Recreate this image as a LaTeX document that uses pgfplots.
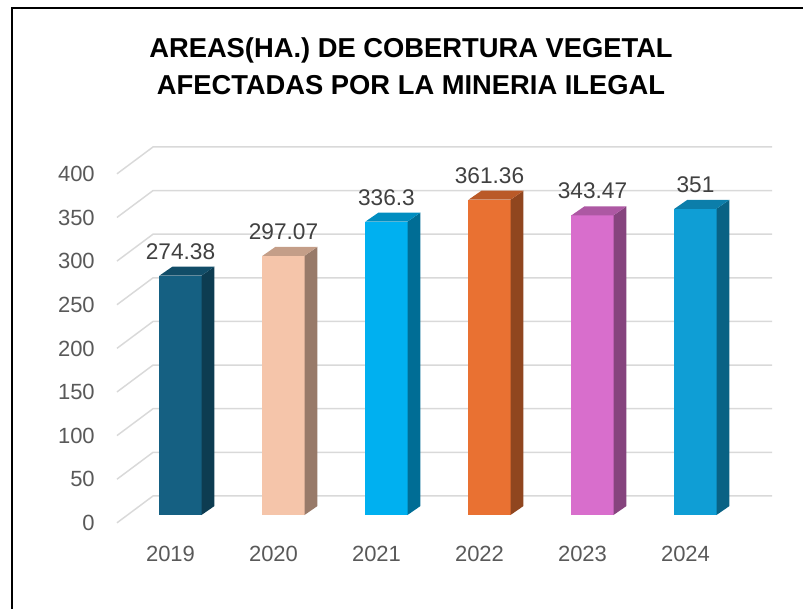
\documentclass[border=0pt]{standalone}
\usepackage{pgfplots}
\pgfplotsset{compat=1.18}
\usepackage{fontspec}
\setmainfont{Liberation Sans}
\definecolor{gridc}{RGB}{217,217,217}
\definecolor{tickc}{RGB}{89,89,89}
\definecolor{labc}{RGB}{64,64,64}
\definecolor{c19}{HTML}{156082}
\definecolor{c20}{HTML}{F5C5AA}
\definecolor{c21}{HTML}{00B0F0}
\definecolor{c22}{HTML}{E97132}
\definecolor{c23}{HTML}{D86ECC}
\definecolor{c24}{HTML}{0F9ED5}

% 3-D looking bar: centre, value, colour
\newcommand\tdbar[3]{%
  \pgfmathsetmacro\xl{#1-0.204}%
  \pgfmathsetmacro\xr{#1+0.204}%
  \pgfmathsetmacro\xb{#1+0.33}%
  \pgfmathsetmacro\xbl{#1-0.078}%
  \pgfmathsetmacro\vt{#2+10.3}%
  \edef\temp{%
    \noexpand\addplot[fill=#3,draw=none,forget plot] coordinates {(\xl,0) (\xr,0) (\xr,#2) (\xl,#2)};
    \noexpand\addplot[fill=#3!62!black,draw=none,forget plot] coordinates {(\xr,0) (\xb,10.3) (\xb,\vt) (\xr,#2)};
    \noexpand\addplot[fill=#3!80!black,draw=none,forget plot] coordinates {(\xl,#2) (\xr,#2) (\xb,\vt) (\xbl,\vt)};
  }\temp}

\begin{document}
\begin{tikzpicture}
\useasboundingbox (0,0) rectangle (602.25pt,-456.75pt);
\begin{axis}[
  at={(96.75pt,-386.25pt)}, anchor=south west,
  scale only axis, width=463.5pt, height=261.75pt,
  xmin=-0.5, xmax=5.5, ymin=0, ymax=400,
  clip=false,
  axis line style={draw=none},
  major tick length=0pt, tick style={draw=none},
  xtick={0,1,2,3,4,5},
  xticklabels={2019,2020,2021,2022,2023,2024},
  ytick={0,50,...,400},
  /pgf/number format/assume math mode=true,
  ticklabel style={font=\fontsize{16.5}{19}\selectfont, text=tickc, inner sep=0pt},
  yticklabel style={anchor=east, xshift=-25.5pt, yshift=-6pt},
  xticklabel style={anchor=north, xshift=-7.5pt, yshift=-23pt},
]
% gridlines (back wall + left side)
\pgfplotsinvokeforeach{0,50,...,400}{%
  \pgfmathsetmacro\ya{#1-9}\pgfmathsetmacro\yb{#1+21.8}%
  \edef\temp{\noexpand\addplot[gridc,line width=1.1pt,forget plot] coordinates {(-0.617,\ya) (-0.267,\yb) (5.743,\yb)};}\temp
}
\tdbar{0}{274.38}{c19}
\tdbar{1}{297.07}{c20}
\tdbar{2}{336.3}{c21}
\tdbar{3}{361.36}{c22}
\tdbar{4}{343.47}{c23}
\tdbar{5}{351}{c24}
\addplot[draw=none, nodes near coords, point meta=explicit symbolic,
  every node near coord/.append style={anchor=south, inner sep=0pt, yshift=12pt,
    font=\fontsize{17}{20}\selectfont, text=labc}]
  coordinates {(0,274.38)[274.38] (1,297.07)[297.07] (2,336.3)[336.3]
               (3,361.36)[361.36] (4,343.47)[343.47] (5,351)[351]};
\end{axis}
\node[anchor=base, font=\bfseries\fontsize{20.5}{24}\selectfont] at (308.25pt,-43.5pt) {AREAS(HA.) DE COBERTURA VEGETAL};
\node[anchor=base, font=\bfseries\fontsize{20.5}{24}\selectfont] at (308.25pt,-70.9pt) {AFECTADAS POR LA MINERIA ILEGAL};
\draw[black, line width=1.5pt] (8.8pt,-470pt) -- (8.8pt,-6pt) -- (615pt,-6pt);
\end{tikzpicture}
\end{document}
